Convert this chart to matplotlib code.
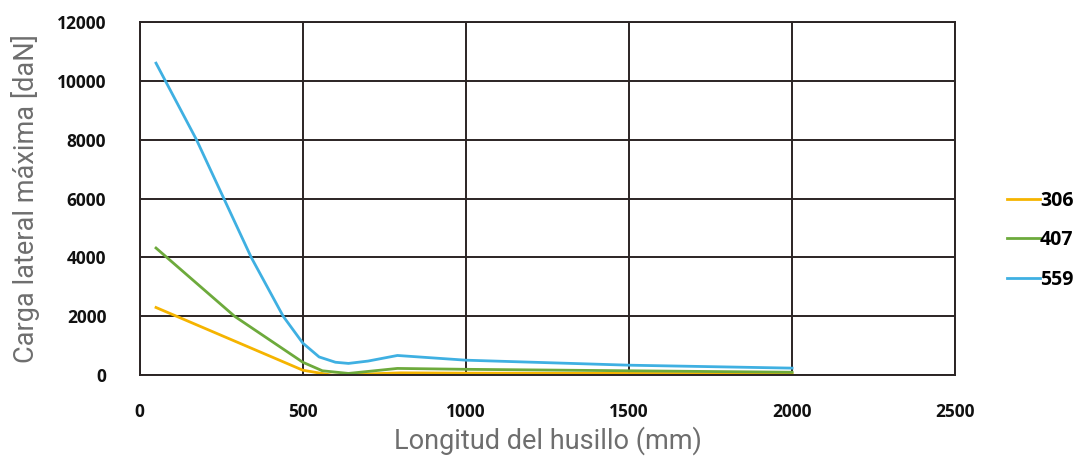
import matplotlib
matplotlib.use("Agg")
import matplotlib.pyplot as plt

# values
x_306 = [50, 500, 590, 800, 1000, 1500, 2000]
y_306 = [2300, 170, 0, 80, 70, 60, 50]

x_407 = [50, 291, 500, 560, 640, 790, 1000, 1500, 2000]
y_407 = [4320, 2000, 440, 150, 60, 230, 200, 150, 100]

x_559 = [50, 174, 342, 440, 500, 550, 600, 640, 700, 790, 1000, 1500, 2000]
y_559 = [10600, 8000, 4000, 2000, 1090, 620, 440, 400, 480, 670, 510, 340, 240]

xticks = [0, 500, 1000, 1500, 2000, 2500]
yticks = [0, 2000, 4000, 6000, 8000, 10000, 12000]

fig = plt.figure(figsize=(10.83, 4.57), dpi=100)
ax = fig.add_axes([0.129, 0.179, 0.753, 0.773])

ax.plot(x_306, y_306, color="#F5B400", lw=2, label="306")
ax.plot(x_407, y_407, color="#6DAA3C", lw=2, label="407")
ax.plot(x_559, y_559, color="#3FB0E2", lw=2, label="559")

ax.set_xlim(0, 2500)
ax.set_ylim(0, 12000)
ax.set_xticks(xticks)
ax.set_yticks(yticks)
ax.grid(True, color="#2b2424", lw=1.4)
for s in ax.spines.values():
    s.set_color("#2b2424")
    s.set_linewidth(1.4)
ax.tick_params(axis="x", length=0, pad=20)
ax.tick_params(axis="y", length=0, pad=24)
for lab in ax.get_xticklabels() + ax.get_yticklabels():
    lab.set_fontfamily("Open Sans")
    lab.set_fontweight("bold")
    lab.set_fontsize(12.5)
    lab.set_color("#111111")

ax.set_xlabel("Longitud del husillo (mm)", fontfamily="Roboto",
              fontsize=19.5, color="#6e6e6e", labelpad=4)
ax.set_ylabel("Carga lateral máxima [daN]", fontfamily="Roboto",
              fontsize=19.5, color="#6e6e6e", labelpad=12)

leg = ax.legend(loc="center left", bbox_to_anchor=(1.054, 0.382), frameon=False,
                handlelength=1.7, handletextpad=0.0, labelspacing=1.0,
                borderaxespad=0,
                prop={"family": "Open Sans", "weight": "bold", "size": 14})

fig.savefig("out.png", dpi=100)
